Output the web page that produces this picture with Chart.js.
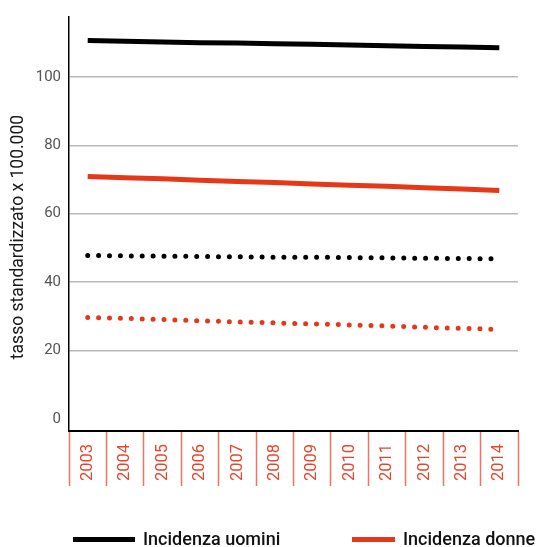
<!DOCTYPE html>
<html>
<head>
<meta charset="utf-8">
<script src="https://cdn.jsdelivr.net/npm/chart.js@4/dist/chart.umd.min.js"></script>
<style>
  html, body { margin: 0; padding: 0; background: #fff; }
  #wrap { position: relative; width: 540px; height: 547px; }
  .leg { position: absolute; top: 528px; height: 22px; font: 500 18px Roboto, sans-serif; color: #111; white-space: nowrap; }
  .leg span.sw { position: absolute; top: 9px; height: 5px; }
  .leg span.tx { position: absolute; top: 0; line-height: 22px; }
</style>
</head>
<body>
<div id="wrap">
  <canvas id="c" width="540" height="547"></canvas>
  <div class="leg" style="left:0">
    <span class="sw" style="left:73px;width:62px;background:#000"></span>
    <span class="tx" style="left:143px">Incidenza uomini</span>
  </div>
  <div class="leg" style="left:0">
    <span class="sw" style="left:352px;width:43px;background:#e63719"></span>
    <span class="tx" style="left:403px">Incidenza donne</span>
  </div>
</div>
<script>
// Anni
const years = ['2003', '2004', '2005', '2006', '2007', '2008', '2009', '2010', '2011', '2012', '2013', '2014'];

// Incidenza (linee continue)
const incidenzaUomini = [110.6, 110.4, 110.2, 110.0, 109.9, 109.7, 109.5, 109.3, 109.1, 108.9, 108.7, 108.5];
const incidenzaDonne = [70.9, 70.5, 70.2, 69.8, 69.4, 69.1, 68.7, 68.3, 68.0, 67.6, 67.2, 66.8];

// Linee punteggiate
const puntiUomini = [47.8, 47.7, 47.6, 47.5, 47.4, 47.3, 47.3, 47.2, 47.1, 47.0, 46.9, 46.8];
const puntiDonne = [29.7, 29.4, 29.1, 28.7, 28.4, 28.1, 27.8, 27.5, 27.2, 26.8, 26.5, 26.2];

const yTicks = [0, 20, 40, 60, 80, 100];
const yTitle = 'tasso standardizzato x 100.000';

const RED = '#e63719';
const FONT = 'Roboto, sans-serif';

// titolo asse y, centrato sull'intervallo 0-100
const yTitlePlugin = {
    id: 'yTitle',
    afterDraw(chart) {
        const ctx = chart.ctx;
        ctx.save();
        ctx.translate(19, 237);
        ctx.rotate(-Math.PI / 2);
        ctx.font = '17.5px ' + FONT;
        ctx.fillStyle = '#1a1a1a';
        ctx.textAlign = 'center';
        ctx.textBaseline = 'middle';
        ctx.fillText(yTitle, 0, 0);
        ctx.restore();
    }
};

new Chart(document.getElementById('c'), {
    type: 'line',
    data: {
        labels: years,
        datasets: [
            {
                label: 'Incidenza uomini',
                data: incidenzaUomini,
                borderColor: '#000',
                borderWidth: 5,
                pointRadius: 0,
                tension: 0
            },
            {
                label: 'Incidenza donne',
                data: incidenzaDonne,
                borderColor: RED,
                borderWidth: 5,
                pointRadius: 0,
                tension: 0
            },
            {
                label: 'uomini (punti)',
                data: puntiUomini,
                borderColor: '#000',
                borderWidth: 5,
                borderDash: [0, 10.9],
                borderCapStyle: 'round',
                pointRadius: 0,
                tension: 0
            },
            {
                label: 'donne (punti)',
                data: puntiDonne,
                borderColor: RED,
                borderWidth: 5,
                borderDash: [0, 10.9],
                borderCapStyle: 'round',
                pointRadius: 0,
                tension: 0
            }
        ]
    },
    options: {
        responsive: false,
        animation: false,
        layout: { padding: { top: 10, right: 22, left: 0, bottom: 0 } },
        plugins: {
            legend: { display: false },
            tooltip: { enabled: false }
        },
        scales: {
            x: {
                offset: true,
                afterFit: (s) => { s.height = 116; },
                border: { display: true, color: '#000', width: 2 },
                grid: {
                    offset: true,
                    drawOnChartArea: false,
                    drawTicks: true,
                    tickLength: 55,
                    tickColor: '#ef7360',
                    tickWidth: 1.5
                },
                ticks: {
                    color: '#e8452c',
                    font: { family: FONT, size: 16.5 },
                    minRotation: 90,
                    maxRotation: 90,
                    padding: -42,
                    autoSkip: false
                }
            },
            y: {
                min: -3.5,
                max: 117.5,
                afterFit: (s) => { s.width = 69; },
                afterBuildTicks: (s) => { s.ticks = yTicks.map(v => ({ value: v })); },
                border: { display: true, color: '#000', width: 1.5 },
                grid: {
                    drawTicks: false,
                    lineWidth: 1.5,
                    color: (c) => (c.tick && c.tick.value === 0) ? 'rgba(0,0,0,0)' : '#b9b9b9'
                },
                ticks: {
                    color: '#555',
                    font: { family: FONT, size: 15 },
                    padding: 8
                }
            }
        }
    },
    plugins: [yTitlePlugin]
});
</script>
</body>
</html>
